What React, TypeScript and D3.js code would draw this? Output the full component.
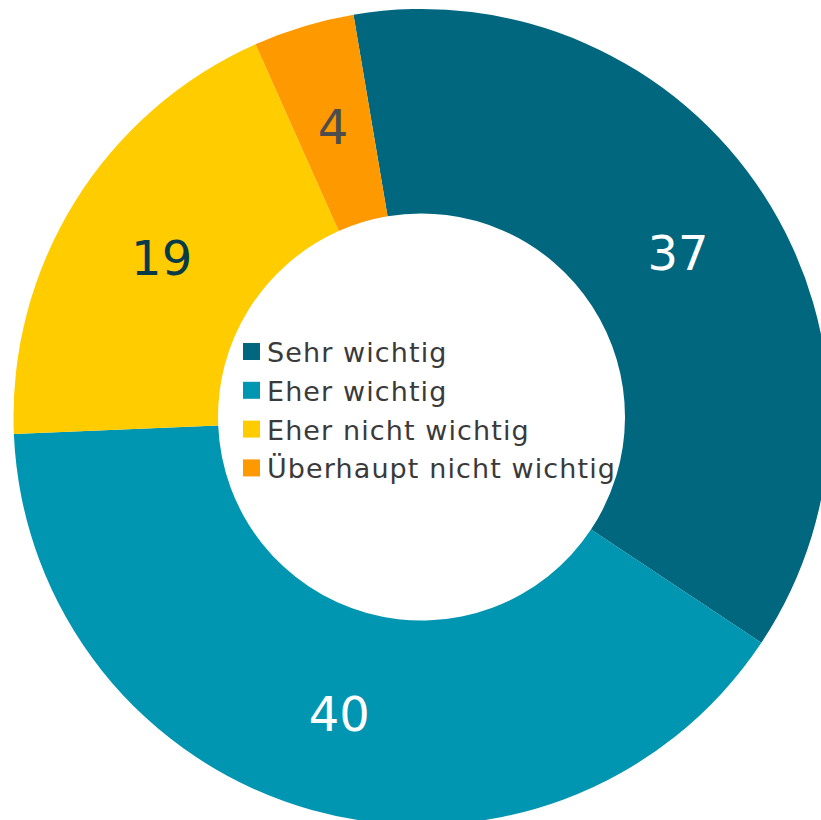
import React from "react";
import * as d3 from "d3";

const categories = ["Sehr wichtig", "Eher wichtig", "Eher nicht wichtig", "Überhaupt nicht wichtig"];
const values = [37, 40, 19, 4];
const colors = ["#00677F", "#0095B0", "#FFCC00", "#FF9900"];
const labelColors = ["#FFFFFF", "#FFFFFF", "#083B4A", "#4D4D4D"];

export default function App() {
  const W = 821, H = 820;
  const cx = 421.5, cy = 417;
  const outerR = 408, innerR = 203.5;
  const start = (-9.6 * Math.PI) / 180;
  const pie = d3.pie<number>().sort(null).value((d) => d).startAngle(start).endAngle(start + 2 * Math.PI);
  const arcs = pie(values);
  const arc = d3.arc<d3.PieArcDatum<number>>().innerRadius(innerR).outerRadius(outerR);
  const font = "'DejaVu Sans', Verdana, sans-serif";
  return (
    <svg width={W} height={H} style={{ position: "absolute", left: 0, top: 0 }} fontFamily={font}>
      <rect width={W} height={H} fill="#fff" />
      <g transform={`translate(${cx},${cy})`}>
        {arcs.map((a, i) => (
          <path key={i} d={arc(a) || ""} fill={colors[i]} />
        ))}
        {arcs.map((a, i) => {
          const [x, y] = arc.centroid(a);
          return (
            <text key={i} x={x} y={y + 2.5} textAnchor="middle" dominantBaseline="central" fontSize={48} fill={labelColors[i]}>
              {values[i]}
            </text>
          );
        })}
      </g>
      <g>
        {categories.map((c, i) => (
          <g key={i} transform={`translate(243,${343 + i * 38.8})`}>
            <rect width={17} height={17} fill={colors[i]} />
            <text x={24} y={19} fontSize={27} letterSpacing={1.1} fill="#3A3A3A">
              {c}
            </text>
          </g>
        ))}
      </g>
    </svg>
  );
}
